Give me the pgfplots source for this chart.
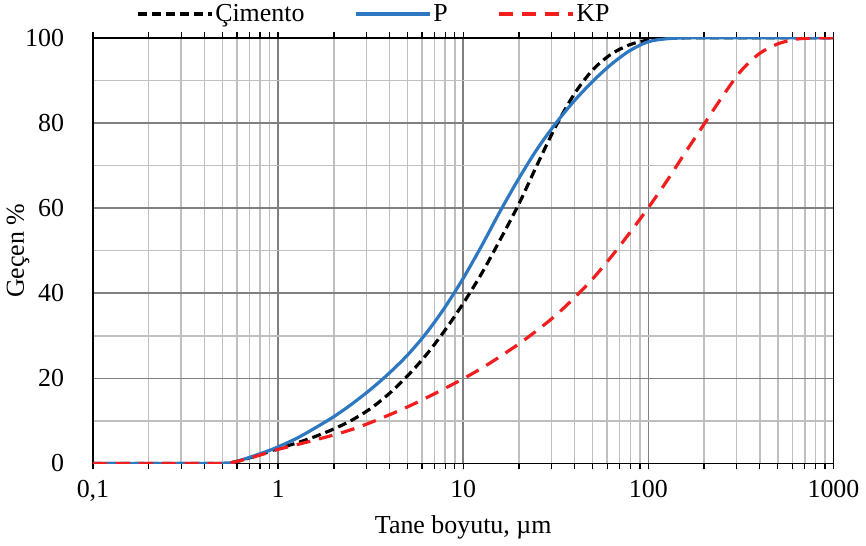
\documentclass[border=0pt]{standalone}
\usepackage{fontspec}
\setmainfont{Liberation Serif}
\usepackage{pgfplots}
\pgfplotsset{compat=1.18}
\definecolor{pblue}{HTML}{2E78C2}
\definecolor{kpred}{HTML}{F21E1E}
\begin{document}
\begin{tikzpicture}
\begin{axis}[
  scale only axis,
  width=371.5pt, height=213.5pt,
  xmode=log, xmin=0.1, xmax=1000,
  ymin=0, ymax=100,
  xtick={0.1,1,10,100,1000},
  xticklabels={{0,1},1,10,100,1000},
  ytick={0,20,40,60,80,100},
  minor ytick={10,30,50,70,90},
  /pgf/number format/assume math mode=true,
  grid=both,
  major grid style={draw=black!50, line width=0.8pt},
  minor grid style={draw=black!25, line width=0.8pt},
  axis line style={black, line width=0.9pt},
  x tick style={black, line width=0.7pt},
  xtick align=outside,
  major tick length=3pt, minor tick length=3pt,
  y tick style={draw=none},
  tick label style={font=\fontsize{13}{15}\selectfont},
  label style={font=\fontsize{13}{15}\selectfont},
  yticklabel style={xshift=-11pt},
  xticklabel style={yshift=-2pt},
  xlabel={Tane boyutu, µm},
  ylabel={Geçen \%},
  ylabel shift=-9pt,
  legend columns=3,
  legend style={draw=none, fill=none, at={(0.058,1.056)}, anchor=west,
    font=\fontsize{13}{15}\selectfont, inner xsep=0pt, inner ysep=0pt,
    nodes={inner xsep=1pt},
    /tikz/every even column/.append style={column sep=24pt},
    /tikz/column 4/.append style={column sep=19pt}},
  legend cell align=left,
  legend image code/.code={\draw[#1] (0pt,0pt) -- (37pt,0pt);},
]
\addplot[black, line width=1.6pt, dash pattern=on 4.5pt off 2.5pt, smooth] coordinates {
 (0.1,0) (0.2,0) (0.3,0) (0.4,0) (0.5,0) (0.56,0.2) (0.63,0.7) (0.71,1.4) (0.79,2.0) (0.89,2.8)
 (1,3.5) (1.26,4.8) (1.58,6.3) (2,8.1) (2.51,10.2) (3.16,12.9) (3.98,16.4) (5.01,20.6)
 (6.31,25.5) (7.94,31.2) (10,37.6) (12.6,44.7) (15.8,52.5) (20,61.0) (25.1,70.2)
 (31.6,79.2) (39.8,86.8) (50.1,92.5) (63.1,96.2) (79.4,98.4) (100,99.5) (126,99.9)
 (158,100) (200,100) (1000,100)};
\addlegendentry{Çimento}
\addplot[pblue, line width=1.6pt, smooth] coordinates {
 (0.1,0) (0.2,0) (0.3,0) (0.4,0) (0.5,0) (0.56,0.2) (0.63,0.8) (0.71,1.5) (0.79,2.2) (0.89,3.0)
 (1,3.9) (1.26,5.9) (1.58,8.3) (2,11.0) (2.51,14.0) (3.16,17.4) (3.98,21.2) (5.01,25.5)
 (6.31,30.6) (7.94,36.6) (10,43.5) (12.6,51.2) (15.8,59.2) (20,67.0) (25.1,73.9)
 (31.6,79.9) (39.8,85.2) (50.1,89.8) (63.1,93.8) (79.4,97.0) (100,99.1) (126,99.8)
 (158,100) (200,100) (1000,100)};
\addlegendentry{P}
\addplot[kpred, line width=1.6pt, dash pattern=on 7pt off 4.5pt, smooth] coordinates {
 (0.1,0) (0.2,0) (0.3,0) (0.4,0) (0.5,0) (0.56,0.2) (0.63,0.7) (0.71,1.3) (0.79,1.9) (0.89,2.6)
 (1,3.3) (1.26,4.4) (1.58,5.5) (2,6.7) (2.51,8.0) (3.16,9.6) (3.98,11.4) (5.01,13.3)
 (6.31,15.4) (7.94,17.6) (10,19.9) (12.6,22.4) (15.8,25.1) (20,28.1) (25.1,31.3)
 (31.6,34.8) (39.8,38.9) (50.1,43.4) (63.1,48.6) (79.4,54.2) (100,60.1) (126,66.4)
 (158,73.0) (200,79.7) (251,86.2) (316,92.2) (398,96.3) (501,98.6) (631,99.7)
 (794,100) (1000,100)};
\addlegendentry{KP}
\end{axis}
\end{tikzpicture}
\end{document}
